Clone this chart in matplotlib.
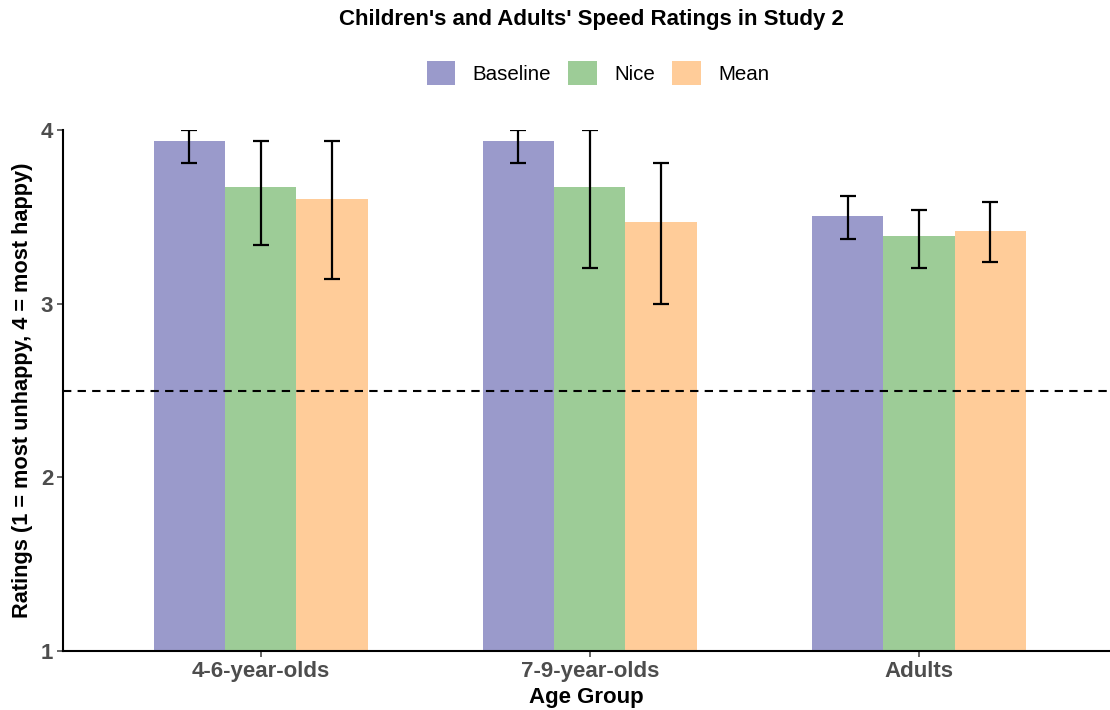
import matplotlib
matplotlib.use("Agg")
import matplotlib.pyplot as plt
import numpy as np
from matplotlib.patches import Patch

plt.rcParams['font.family'] = ['Liberation Sans', 'DejaVu Sans']

groups = ["4-6-year-olds", "7-9-year-olds", "Adults"]
conditions = ["Baseline", "Nice", "Mean"]
colors = ["#9A9ACB", "#9DCC97", "#FFCC99"]

baseline = [3.937, 3.937, 3.505]
nice = [3.672, 3.672, 3.39]
mean = [3.603, 3.47, 3.42]
values = [baseline, nice, mean]

baseline_lo = [3.81, 3.81, 3.372]
baseline_hi = [4.0, 4.0, 3.62]
nice_lo = [3.338, 3.205, 3.205]
nice_hi = [3.937, 4.0, 3.539]
mean_lo = [3.142, 3.0, 3.24]
mean_hi = [3.937, 3.81, 3.585]
lows = [baseline_lo, nice_lo, mean_lo]
highs = [baseline_hi, nice_hi, mean_hi]

chance = 2.5

fig = plt.figure(figsize=(11.1, 7.1), dpi=100)
ax = fig.add_axes([63/1110, 1 - 651/710, 1 - 63/1110, (651 - 130)/710])

x = np.arange(1, len(groups) + 1)
bw = 0.65 / 3
for i, (cond, col) in enumerate(zip(conditions, colors)):
    xs = x + (i - 1) * bw
    v = np.array(values[i])
    ax.bar(xs, v - 1, bottom=1, width=bw, color=col, edgecolor='none', zorder=2)
    lo = np.array(lows[i]); hi = np.array(highs[i])
    ax.errorbar(xs, v, yerr=[v - lo, hi - v], fmt='none', ecolor='black',
                elinewidth=1.6, capsize=6, capthick=1.6, zorder=3)

ax.axhline(chance, color='black', linestyle=(0, (4, 3)), linewidth=1.5, zorder=4)

ax.set_xlim(0.4, 3.58)
ax.set_ylim(1, 4)
ax.set_yticks([1, 2, 3, 4])
ax.set_xticks(x)
ax.set_xticklabels(groups)
for s in ['top', 'right']:
    ax.spines[s].set_visible(False)
for s in ['left', 'bottom']:
    ax.spines[s].set_linewidth(1.5)
    ax.spines[s].set_color('black')
ax.tick_params(axis='both', colors='#4D4D4D', labelsize=16, length=4, width=1.2, pad=3)
for lbl in ax.get_xticklabels() + ax.get_yticklabels():
    lbl.set_fontweight('bold')
    lbl.set_color('#4D4D4D')
ax.set_xlabel("Age Group", fontsize=16, fontweight='bold', labelpad=4)
ax.set_ylabel("Ratings (1 = most unhappy, 4 = most happy)", fontsize=15.7,
              fontweight='bold', labelpad=6)

fig.text(591/1110, 1 - 19/710, "Children's and Adults' Speed Ratings in Study 2",
         ha='center', va='center', fontsize=16, fontweight='bold')

handles = [Patch(facecolor=c, edgecolor='none', label=l) for c, l in zip(colors, conditions)]
fig.legend(handles=handles, loc='center', bbox_to_anchor=(598/1110, 1 - 73/710), ncol=3,
           frameon=False, fontsize=14.8, handlelength=1.4, handleheight=1.4,
           columnspacing=0.85, handletextpad=0.83)

fig.savefig("out.png", dpi=100)
